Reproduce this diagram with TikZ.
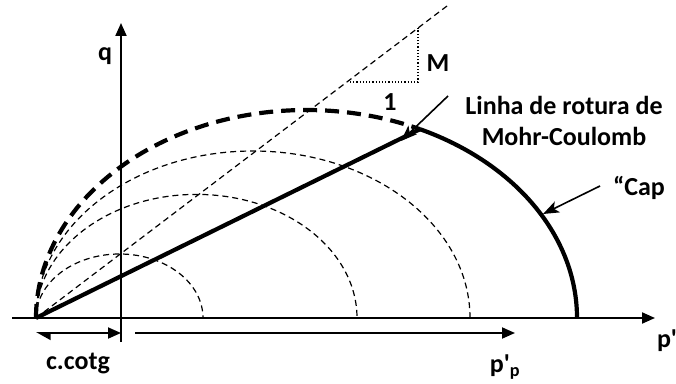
\documentclass[tikz,border=0pt]{standalone}
\usepackage{fontspec}
\setmainfont{Carlito}
\usetikzlibrary{arrows.meta}
\begin{document}
\begin{tikzpicture}[x=1pt,y=1pt,
  lbl/.style={font=\bfseries\fontsize{26}{31}\selectfont, inner sep=0pt},
  axis/.style={line width=2pt,-{Triangle[length=13pt,width=11pt]}},
  thin dash/.style={line width=1.2pt,dash pattern=on 6pt off 4pt},
  thick dash/.style={line width=4.2pt,dash pattern=on 14pt off 8pt},
  thickline/.style={line width=4.2pt},
  pointer/.style={line width=1.6pt,-{Stealth[length=16pt,width=12pt,inset=4pt]}}]
\useasboundingbox (0,0) rectangle (676,383);
% coordinates
\coordinate (O) at (36,65);
\coordinate (xs) at (12,65);
\coordinate (xe) at (655,65);
\coordinate (ys) at (121,41);
\coordinate (ye) at (121,360);
\coordinate (csl) at (447,377);
\coordinate (tA) at (350,301);
\coordinate (tB) at (418,301);
\coordinate (tC) at (418,355);
% axes
\draw[axis] (xs) -- (xe);
\draw[axis] (ys) -- (ye);
% ellipses
\draw[thin dash] (O) arc[start angle=180,end angle=0,x radius=83.5,y radius=64];
\draw[thin dash] (O) arc[start angle=180,end angle=0,x radius=160.5,y radius=123.6];
\draw[thin dash] (O) arc[start angle=180,end angle=0,x radius=217,y radius=167];
\draw[thick dash] (O) arc[start angle=180,end angle=65.2,x radius=270.5,y radius=208] coordinate (P);
\draw[thickline] (P) arc[start angle=65.2,end angle=0,x radius=270.5,y radius=208];
% lines
\draw[thin dash] (O) -- (csl);
\draw[thickline] (O) -- (P);
\draw[line width=1.2pt,dotted] (tA) -- (tB) -- (tC);
% labels
\node[lbl] (q) at (105,327) {q};
\node[lbl] (pp) at (667,42) {p\textquotesingle};
\node[lbl] (M) at (438,320) {M};
\node[lbl] (one) at (390,281) {1};
\node[lbl,align=center] (mc) at (564,262) {Linha de rotura de\\Mohr-Coulomb};
\node[lbl] (cap) at (639,195) {“Cap};
\node[lbl] (cc) at (78,20) {c.cotg};
\node[lbl] (ppp) at (505,16) {p\textquotesingle\textsubscript{p}};
% pointers
\coordinate (a1s) at (448,287);
\coordinate (a1e) at (401,242);
\coordinate (a2s) at (600,197);
\coordinate (a2e) at (543,169);
\draw[pointer] (a1s) -- (a1e);
\draw[pointer] (a2s) -- (a2e);
% bottom arrows
\coordinate (b1s) at (121,50);
\coordinate (b1e) at (36,50);
\coordinate (b2s) at (135,50);
\coordinate (b2e) at (515,50);
\draw[line width=1.8pt,{Triangle[length=13pt,width=11pt]}-{Triangle[harpoon,length=13pt,width=14pt]}] (b1s) -- (b1e);
\draw[line width=1.8pt,-{Triangle[length=13pt,width=11pt]}] (b2s) -- (b2e);
\end{tikzpicture}
\end{document}
